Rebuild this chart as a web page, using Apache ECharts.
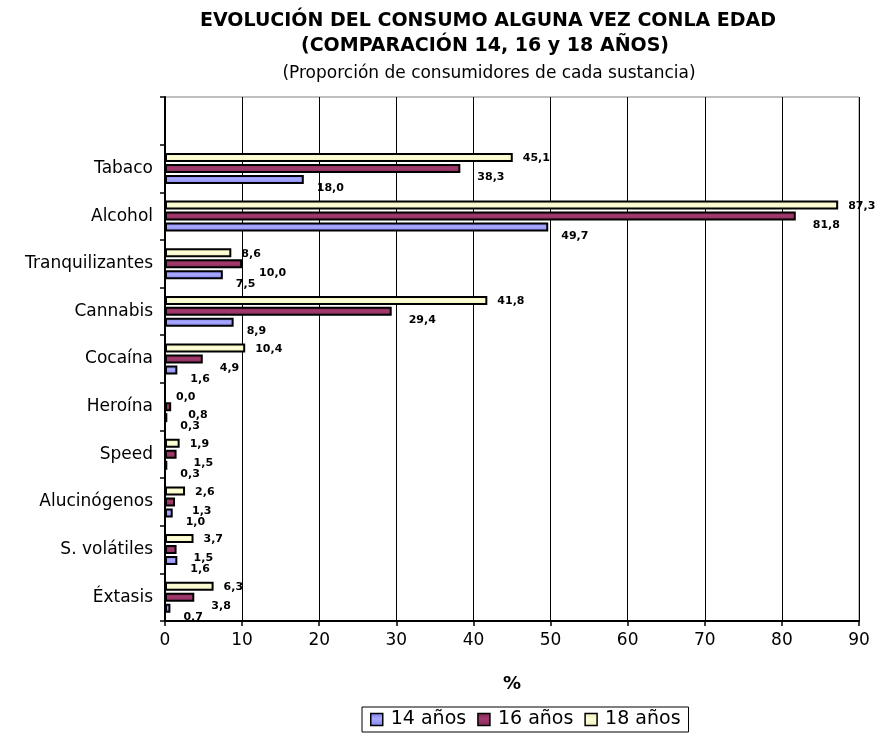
<!DOCTYPE html>
<html>
<head>
<meta charset="utf-8">
<script src="https://cdn.jsdelivr.net/npm/echarts@6/dist/echarts.min.js"></script>
<style>
  html, body { margin: 0; padding: 0; background: #fff; }
  #chart { width: 875px; height: 735px; }
</style>
</head>
<body>
<div id="chart"></div>
<script>
// categorias de arriba a abajo
var categories = ['Tabaco', 'Alcohol', 'Tranquilizantes', 'Cannabis', 'Cocaína', 'Heroína', 'Speed', 'Alucinógenos', 'S. volátiles', 'Éxtasis'];
var edad14 = [18.0, 49.7, 7.5, 8.9, 1.6, 0.3, 0.3, 1.0, 1.6, 0.7];
var edad16 = [38.3, 81.8, 10.0, 29.4, 4.9, 0.8, 1.5, 1.3, 1.5, 3.8];
var edad18 = [45.1, 87.3, 8.6, 41.8, 10.4, 0.0, 1.9, 2.6, 3.7, 6.3];
var seriesNames = ['14 años', '16 años', '18 años'];
var xTicks = [0, 10, 20, 30, 40, 50, 60, 70, 80, 90];

var FONT = '"DejaVu Sans", Verdana, sans-serif';

// el eje no va invertido: se da la vuelta a los datos y se deja un hueco arriba
var axisCats = categories.slice().reverse().concat(['']);
function rev(arr) { return arr.slice().reverse(); }

function fmt(p) {
    return p.value.toFixed(1).replace('.', ',');
}

function grad(c1, c2, c3) {
    return {
        type: 'linear', x: 0, y: 0, x2: 0, y2: 1,
        colorStops: [
            { offset: 0, color: c1 },
            { offset: 0.45, color: c2 },
            { offset: 1, color: c3 }
        ]
    };
}

function barSerie(name, data, color, offset) {
    return {
        name: name,
        type: 'bar',
        data: rev(data),
        barWidth: 9,
        barGap: '22%',
        barCategoryGap: '30%',
        itemStyle: {
            color: color,
            borderColor: '#000',
            borderWidth: 2
        },
        label: {
            show: true,
            position: 'right',
            offset: offset,
            formatter: fmt,
            color: '#000',
            fontFamily: FONT,
            fontWeight: 'bold',
            fontSize: 11
        }
    };
}

var myChart = echarts.init(document.getElementById('chart'));
myChart.setOption({
    backgroundColor: '#fff',
    animation: false,
    textStyle: { fontFamily: FONT, color: '#000' },
    graphic: [
        {
            type: 'text', x: 488, y: 21,
            style: { text: 'EVOLUCIÓN DEL CONSUMO ALGUNA VEZ CONLA EDAD', font: 'bold 19px ' + FONT, fill: '#000', align: 'center', verticalAlign: 'middle' }
        },
        {
            type: 'text', x: 485, y: 46,
            style: { text: '(COMPARACIÓN 14, 16 y 18 AÑOS)', font: 'bold 19px ' + FONT, fill: '#000', align: 'center', verticalAlign: 'middle' }
        },
        {
            type: 'text', x: 489, y: 74,
            style: { text: '(Proporción de consumidores de cada sustancia)', font: '17px ' + FONT, fill: '#000', align: 'center', verticalAlign: 'middle' }
        }
    ],
    legend: {
        data: seriesNames,
        left: 362,
        top: 707,
        orient: 'horizontal',
        itemWidth: 12,
        itemHeight: 12,
        itemGap: 11,
        padding: [3, 8, 3, 8],
        borderColor: '#000',
        borderWidth: 1,
        icon: 'rect',
        itemStyle: { borderColor: '#000', borderWidth: 1.5 },
        textStyle: { fontFamily: FONT, fontSize: 19, color: '#000', padding: [0, 0, 0, 3] }
    },
    grid: {
        left: 165,
        right: 16,
        top: 97,
        bottom: 114,
        show: true,
        borderColor: '#808080',
        borderWidth: 1,
        containLabel: false
    },
    xAxis: {
        type: 'value',
        min: xTicks[0],
        max: xTicks[xTicks.length - 1],
        interval: 10,
        name: '%',
        nameLocation: 'middle',
        nameGap: 54,
        nameTextStyle: { fontFamily: FONT, fontWeight: 'bold', fontSize: 18, color: '#000' },
        axisLine: { show: true, lineStyle: { color: '#000', width: 2 } },
        axisTick: { show: true, length: 5, lineStyle: { color: '#000', width: 1.5 } },
        axisLabel: { fontFamily: FONT, fontSize: 17, color: '#000', margin: 11 },
        splitLine: { show: true, lineStyle: { color: '#000', width: 1 } }
    },
    yAxis: {
        type: 'category',
        data: axisCats,
        axisLine: { show: true, lineStyle: { color: '#000', width: 2 } },
        axisTick: { show: true, length: 5, lineStyle: { color: '#000', width: 1.5 } },
        axisLabel: { fontFamily: FONT, fontSize: 17, color: '#000', margin: 12 },
        splitLine: { show: false }
    },
    // en barras horizontales la primera serie queda arriba: 18, 16, 14
    series: [
        barSerie(seriesNames[2], edad18, grad('#e8e8b0', '#ffffd8', '#eeeebb'), [5, 1]),
        barSerie(seriesNames[1], edad16, grad('#7f2550', '#a33b6e', '#85295a'), [12, 9]),
        barSerie(seriesNames[0], edad14, grad('#7777ee', '#aaaaff', '#8080f0'), [8, 9])
    ]
});
</script>
</body>
</html>
